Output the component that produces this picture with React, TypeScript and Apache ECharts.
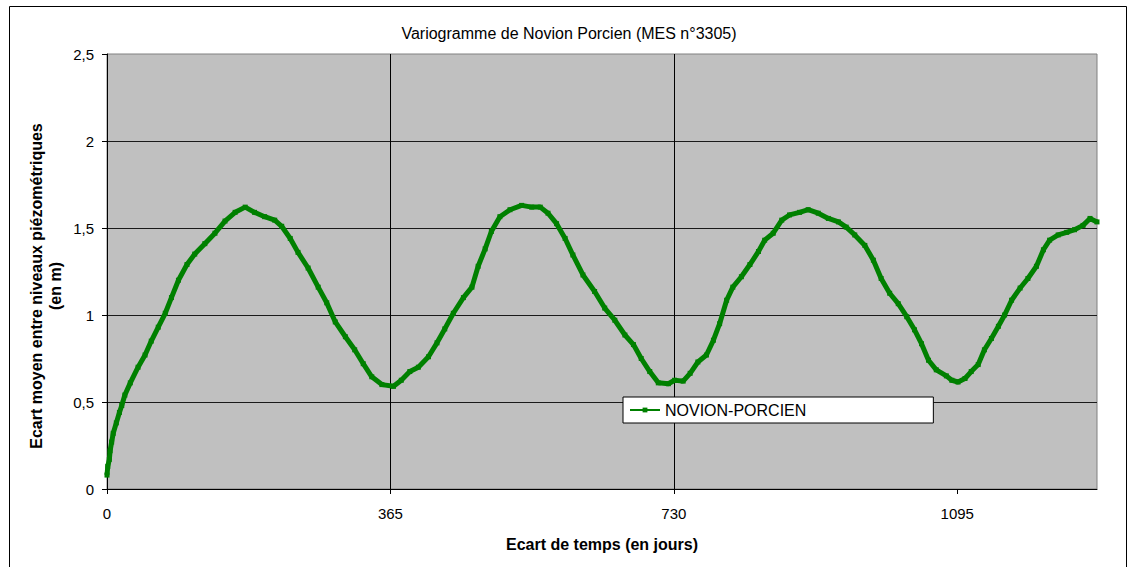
import React, { useEffect, useRef } from "react";
import * as echarts from "echarts";

const titleText = "Variogramme de Novion Porcien (MES n°3305)";
const seriesName = "NOVION-PORCIEN";
const xAxisTitle = "Ecart de temps (en jours)";
const yAxisTitle = "Ecart moyen entre niveaux piézométriques\n(en m)";

const xTicks = [0, 365, 730, 1095];
const yTicks = [0, 0.5, 1, 1.5, 2, 2.5];

const days = [
  0, 1, 3, 4, 6, 8, 12, 16, 19, 23, 30, 40, 49, 57, 66, 75, 83, 92, 103, 113,
  126, 139, 152, 165, 178, 190, 203, 216, 225, 236, 246, 259, 272, 283, 294, 307,
  319, 330, 341, 354, 369, 379, 390, 401, 414, 425, 435, 446, 459, 470, 478, 487,
  495, 506, 519, 534, 547, 558, 568, 579, 590, 600, 613, 628, 641, 654, 667, 678,
  688, 699, 710, 723, 731, 742, 751, 761, 772, 781, 789, 798, 806, 817, 828, 839,
  847, 858, 869, 879, 892, 903, 916, 929, 942, 952, 963, 976, 987, 997, 1008, 1019,
  1030, 1040, 1049, 1058, 1068, 1081, 1088, 1096, 1105, 1113, 1122, 1130, 1139,
  1148, 1156, 1165, 1176, 1186, 1197, 1206, 1214, 1225, 1236, 1246, 1257, 1266, 1275,
];

const values = [
  0.08, 0.13, 0.17, 0.22, 0.27, 0.32, 0.38, 0.44, 0.48, 0.54, 0.61, 0.7, 0.77, 0.85,
  0.93, 1.01, 1.1, 1.2, 1.29, 1.35, 1.41, 1.47, 1.54, 1.59, 1.62, 1.59, 1.565, 1.545,
  1.51, 1.44, 1.36, 1.27, 1.16, 1.07, 0.96, 0.875, 0.8, 0.72, 0.645, 0.6, 0.59, 0.625,
  0.675, 0.7, 0.76, 0.84, 0.92, 1.01, 1.1, 1.16, 1.28, 1.38, 1.48, 1.565, 1.605, 1.63,
  1.62, 1.62, 1.585, 1.525, 1.44, 1.345, 1.23, 1.135, 1.04, 0.97, 0.885, 0.83, 0.75,
  0.675, 0.61, 0.605, 0.625, 0.62, 0.665, 0.73, 0.77, 0.855, 0.95, 1.085, 1.16, 1.22,
  1.29, 1.365, 1.43, 1.47, 1.545, 1.575, 1.59, 1.605, 1.585, 1.555, 1.535, 1.505, 1.46,
  1.4, 1.315, 1.21, 1.125, 1.065, 0.99, 0.915, 0.835, 0.74, 0.685, 0.65, 0.625, 0.615,
  0.635, 0.675, 0.715, 0.8, 0.865, 0.935, 1.0, 1.085, 1.155, 1.21, 1.28, 1.375, 1.43,
  1.46, 1.475, 1.49, 1.515, 1.555, 1.535,
];

const FONT = "'Liberation Sans', Arial, sans-serif";

export default function App() {
  const ref = useRef<HTMLDivElement>(null);

  useEffect(() => {
    document.body.style.margin = "0";
    const chart = echarts.init(ref.current as HTMLDivElement, null, { renderer: "svg" });
    chart.setOption({
      animation: false,
      backgroundColor: "#ffffff",
      grid: {
        left: 107,
        top: 54,
        right: 32,
        bottom: 78,
        show: true,
        backgroundColor: "#C0C0C0",
        borderColor: "#808080",
        borderWidth: 1,
      },
      xAxis: {
        type: "value",
        min: 0,
        max: 1275,
        interval: 365,
        axisLine: { show: true, lineStyle: { color: "#000", width: 1 } },
        axisTick: { show: true, length: 5, lineStyle: { color: "#000" }, customValues: xTicks },
        axisLabel: {
          customValues: xTicks,
          color: "#000",
          fontSize: 15,
          fontFamily: FONT,
          margin: 17,
          formatter: (v: number) => String(v),
        },
        splitLine: { show: true, showMinLine: false, showMaxLine: false, lineStyle: { color: "#000", width: 1 } },
      },
      yAxis: {
        type: "value",
        min: 0,
        max: 2.5,
        interval: 0.5,
        axisLine: { show: true, lineStyle: { color: "#000", width: 1 } },
        axisTick: { show: true, length: 5, lineStyle: { color: "#000" } },
        axisLabel: {
          customValues: yTicks,
          color: "#000",
          fontSize: 15,
          fontFamily: FONT,
          margin: 13,
          formatter: (v: number) => String(v).replace(".", ","),
        },
        splitLine: { show: true, showMinLine: false, showMaxLine: false, lineStyle: { color: "#1a1a1a", width: 1 } },
      },
      legend: {
        show: true,
        left: 623,
        top: 397,
        orient: "horizontal",
        padding: [5, 127, 5, 6],
        backgroundColor: "#ffffff",
        borderColor: "#000",
        borderWidth: 1,
        itemWidth: 30,
        itemHeight: 6,
        itemGap: 0,
        textStyle: { color: "#000", fontSize: 16, fontFamily: FONT },
        data: [seriesName],
      },
      graphic: [
        {
          type: "rect",
          silent: true,
          z: 100,
          shape: { x: 9.5, y: 6.5, width: 1117, height: 565 },
          style: { fill: "none", stroke: "#000", lineWidth: 1 },
        },
        {
          type: "text",
          x: 569,
          y: 33,
          style: {
            text: titleText,
            fill: "#000",
            font: `16px ${FONT}`,
            align: "center",
            verticalAlign: "middle",
          },
        },
        {
          type: "text",
          x: 46,
          y: 286,
          rotation: Math.PI / 2,
          style: {
            text: yAxisTitle,
            fill: "#000",
            font: `bold 16px ${FONT}`,
            align: "center",
            verticalAlign: "middle",
            lineHeight: 19,
          },
        },
        {
          type: "text",
          x: 602,
          y: 544,
          style: {
            text: xAxisTitle,
            fill: "#000",
            font: `bold 16px ${FONT}`,
            align: "center",
            verticalAlign: "middle",
          },
        },
      ],
      series: [
        {
          name: seriesName,
          type: "line",
          data: days.map((d, i) => [d, values[i]]),
          symbol: "rect",
          symbolSize: 5,
          showSymbol: true,
          clip: false,
          itemStyle: { color: "#008000" },
          lineStyle: { color: "#008000", width: 5 },
        },
      ],
    });
    return () => chart.dispose();
  }, []);

  return <div ref={ref} style={{ width: 1129, height: 567 }} />;
}
